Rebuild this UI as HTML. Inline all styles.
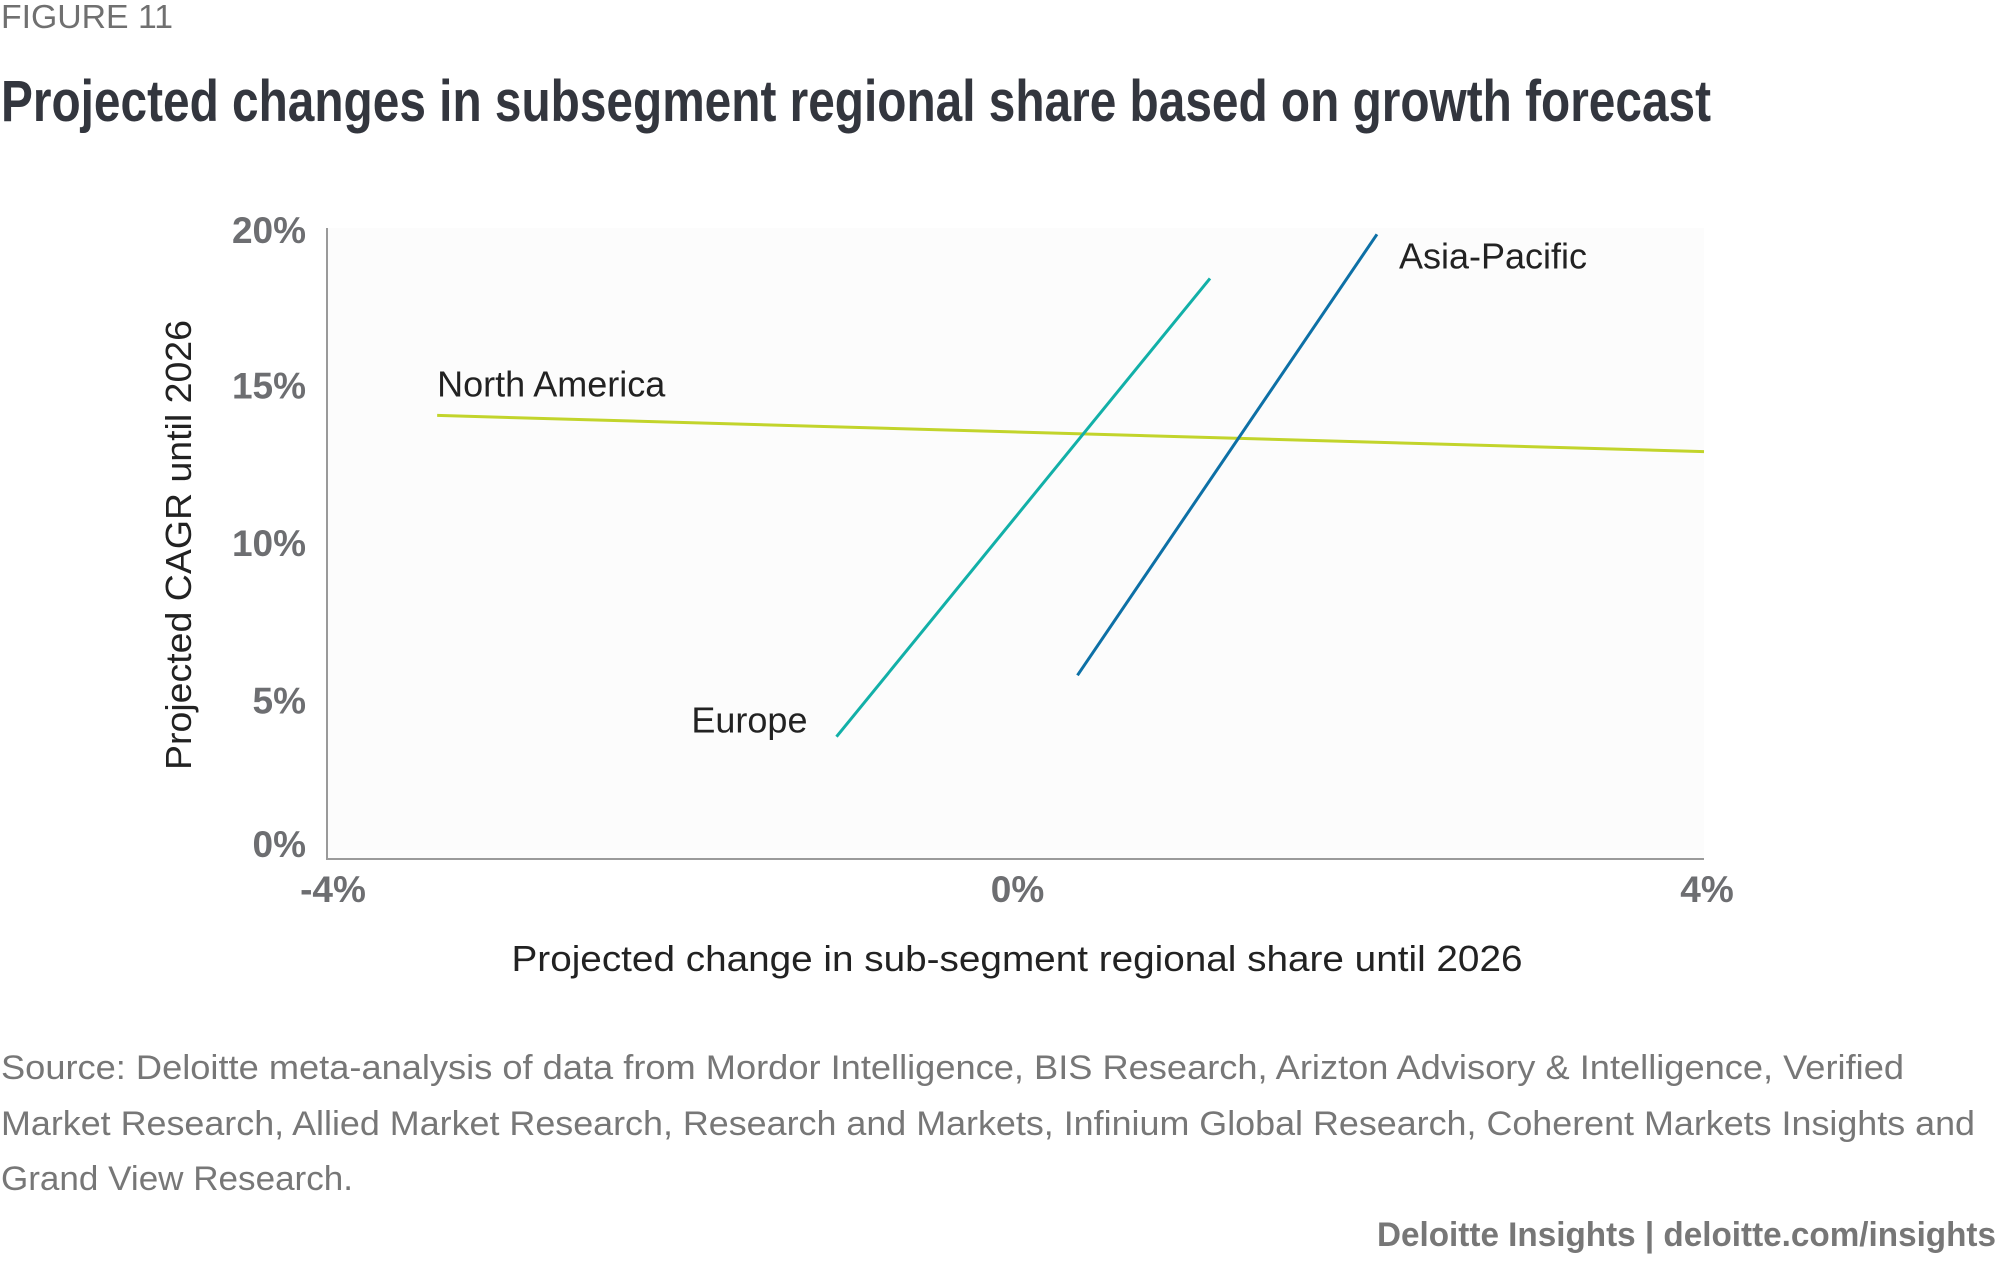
<!DOCTYPE html>
<html><head><meta charset="utf-8"><style>
html,body{margin:0;padding:0;background:#fff;width:2000px;height:1273px;overflow:hidden}
svg{display:block}
text{font-family:"Liberation Sans",sans-serif}
</style></head><body>
<svg id="chart" width="2000" height="1273" viewBox="0 0 2000 1273" xmlns="http://www.w3.org/2000/svg">
<text x="1" y="28" font-size="33" fill="#707070" textLength="172" lengthAdjust="spacingAndGlyphs">FIGURE 11</text>
<text x="1" y="121" font-size="58" font-weight="bold" fill="#33363e" textLength="1710" lengthAdjust="spacingAndGlyphs">Projected changes in subsegment regional share based on growth forecast</text>
<rect x="327" y="228" width="1377" height="630" fill="#fcfcfc"/>
<g id="marks"></g>
<line x1="327" y1="228" x2="327" y2="859" stroke="#9a9a9a" stroke-width="2"/>
<line x1="326" y1="859" x2="1704" y2="859" stroke="#9a9a9a" stroke-width="2"/>
<g id="yticks"></g><g id="xticks"></g>
<text x="1017" y="971" font-size="36" fill="#222" text-anchor="middle" textLength="1011" lengthAdjust="spacingAndGlyphs">Projected change in sub-segment regional share until 2026</text>
<text x="0" y="0" font-size="36" fill="#222" text-anchor="middle" textLength="450" lengthAdjust="spacingAndGlyphs" transform="translate(191,545) rotate(-90)">Projected CAGR until 2026</text>
<text x="1" y="1079" font-size="34" fill="#777" textLength="1903" lengthAdjust="spacingAndGlyphs">Source: Deloitte meta-analysis of data from Mordor Intelligence, BIS Research, Arizton Advisory &amp; Intelligence, Verified</text>
<text x="1" y="1135" font-size="34" fill="#777" textLength="1974" lengthAdjust="spacingAndGlyphs">Market Research, Allied Market Research, Research and Markets, Infinium Global Research, Coherent Markets Insights and</text>
<text x="1" y="1190" font-size="34" fill="#777" textLength="352" lengthAdjust="spacingAndGlyphs">Grand View Research.</text>
<text x="1996" y="1246" font-size="34" font-weight="bold" fill="#777" text-anchor="end" textLength="619" lengthAdjust="spacingAndGlyphs">Deloitte Insights | deloitte.com/insights</text>
</svg>
<script>
const seriesNames = ["North America", "Europe", "Asia-Pacific"];
const seriesColors = ["#c2d42b", "#12b0a8", "#0d70a6"];
const northAmericaX = [-3.36, 4.0];
const northAmericaY = [14.05, 12.9];
const europeX = [-1.04, 1.13];
const europeY = [3.85, 18.4];
const asiaPacificX = [0.36, 2.1];
const asiaPacificY = [5.8, 19.8];
const xTicks = [-4, 0, 4];
const xTickLabels = ["-4%", "0%", "4%"];
const yTicks = [0, 5, 10, 15, 20];
const yTickLabels = ["0%", "5%", "10%", "15%", "20%"];

const NS = "http://www.w3.org/2000/svg";
const X0 = 327, X1 = 1704, Y0 = 858, Y1 = 228;
function xs(v){ return X0 + (v + 4) / 8 * (X1 - X0); }
function ys(v){ return Y0 - v / 20 * (Y0 - Y1); }
function mk(tag, attrs){ const e = document.createElementNS(NS, tag); for (const k in attrs) e.setAttribute(k, attrs[k]); return e; }

const marks = document.getElementById('marks');
const allX = [northAmericaX, europeX, asiaPacificX];
const allY = [northAmericaY, europeY, asiaPacificY];
const labelPos = [[0, 0, -19, 'start'], [0, -29, -4, 'end'], [1, 22, 34, 'start']];
const lineNames = ['north-america-line', 'europe-line', 'asia-pacific-line'];
const labelNames = ['north-america-label', 'europe-label', 'asia-pacific-label'];
for (let i = 0; i < 3; i++) {
  const l = mk('line', {x1: xs(allX[i][0]), y1: ys(allY[i][0]), x2: xs(allX[i][1]), y2: ys(allY[i][1]), stroke: seriesColors[i], 'stroke-width': 3});
  
  
  marks.appendChild(l);
  const p = labelPos[i];
  const t = mk('text', {x: xs(allX[i][p[0]]) + p[1], y: ys(allY[i][p[0]]) + p[2], 'font-size': 36, fill: '#222', 'text-anchor': p[3]});
  t.textContent = seriesNames[i];
  
  
  marks.appendChild(t);
}
const yt = document.getElementById('yticks');
yTicks.forEach((v, i) => {
  const t = mk('text', {x: 306, y: ys(v) + 13 - (v === 0 ? 14 : 0) + (v === 20 ? 2 : 0), 'font-size': 37, 'font-weight': 'bold', fill: '#6d6e71', 'text-anchor': 'end'});
  t.textContent = yTickLabels[i];
  
  
  yt.appendChild(t);
});
const xt = document.getElementById('xticks');
xTicks.forEach((v, i) => {
  const t = mk('text', {x: xs(v) + (i === 0 ? 6 : i === 2 ? 3 : 2), y: 902, 'font-size': 37, 'font-weight': 'bold', fill: '#6d6e71', 'text-anchor': 'middle'});
  t.textContent = xTickLabels[i];
  
  
  xt.appendChild(t);
});
</script>
</body></html>
